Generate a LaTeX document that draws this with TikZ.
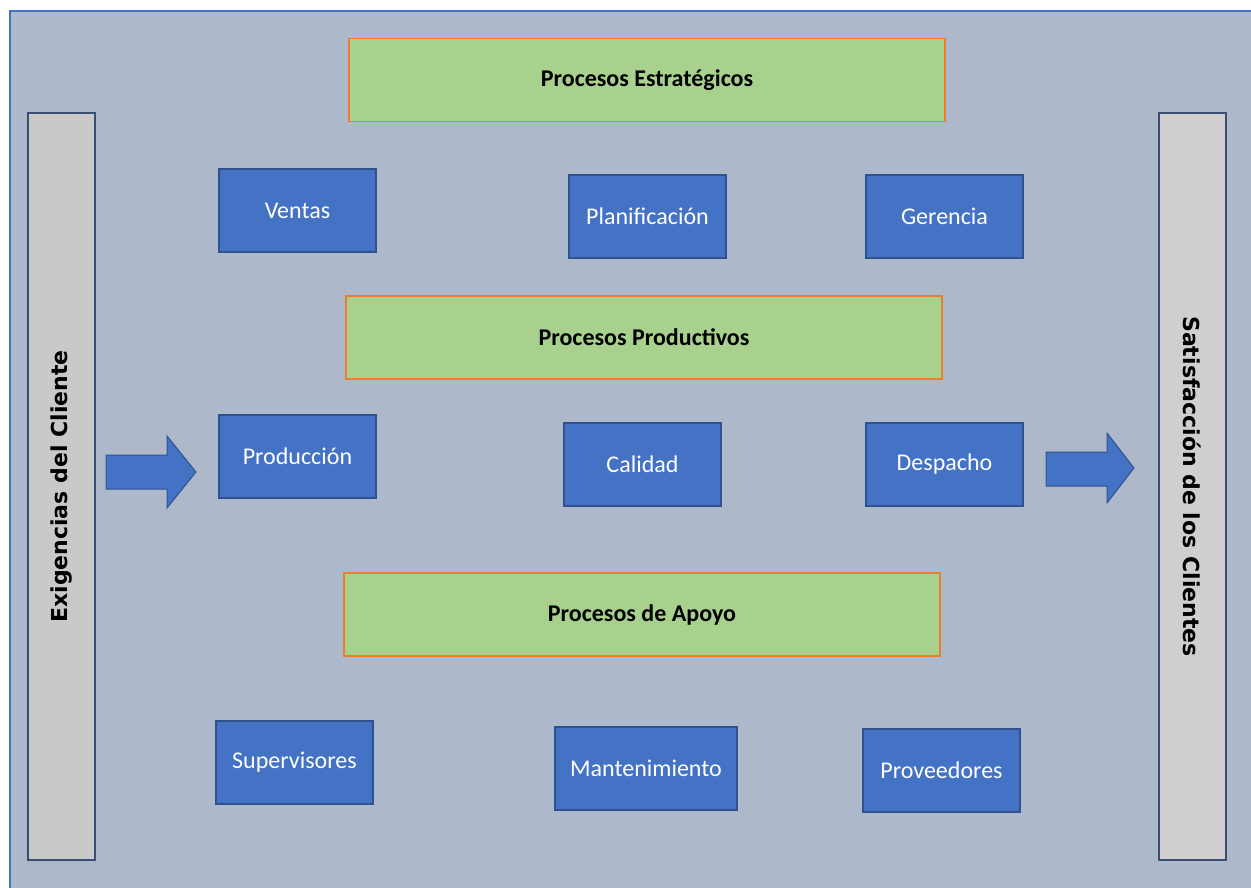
\documentclass[tikz,border=0pt]{standalone}
\usepackage{fontspec}
\setmainfont{Carlito}
\newfontfamily\barfont{DejaVu Sans}
\usetikzlibrary{positioning}
\definecolor{panelbg}{HTML}{ADB9CA}
\definecolor{panelline}{HTML}{4472C4}
\definecolor{procgreen}{HTML}{A9D18E}
\definecolor{procorange}{HTML}{ED7D31}
\definecolor{unitblue}{HTML}{4472C4}
\definecolor{unitline}{HTML}{2F528F}
\definecolor{barleft}{HTML}{C9C9C9}
\definecolor{barright}{HTML}{D0CECE}
\definecolor{barline}{HTML}{3A4D73}
\tikzset{
  x=1pt, y=-1pt,
  header/.style={draw=procorange, line width=1.4pt, fill=procgreen,
    minimum width=596pt, minimum height=83pt, inner sep=0pt,
    font=\fontsize{24}{28}\selectfont\bfseries, text=black},
  unit/.style={draw=unitline, line width=1.4pt, fill=unitblue,
    minimum width=157pt, minimum height=83pt, inner sep=0pt,
    font=\fontsize{24}{28}\selectfont, text=white},
  sidebar/.style={draw=barline, line width=1.6pt,
    minimum width=747pt, minimum height=67pt, inner sep=0pt,
    font=\barfont\fontsize{22}{26}\selectfont\bfseries, text=black},
  blockarrow/.style={draw=unitline, line width=1pt, fill=unitblue, line join=miter},
}
\begin{document}
\begin{tikzpicture}
\useasboundingbox (0,0) rectangle (1251,888);
% background panel
\fill[white] (0,0) rectangle (1251,888);
\fill[panelbg] (10,11) rectangle (1251,888);
\draw[panelline, line width=1.2pt] (10,888) -- (10,11) -- (1251,11);

% side bars
\node[sidebar, fill=barleft, rotate=90] (req) at (61.5,486.5) {Exigencias del Cliente};
\node[sidebar, fill=barright, rotate=-90] (sat) at (1192.5,486.5) {Satisfacción de los Clientes};

% process groups
\node[header] (estr) at (647,80) {Procesos Estratégicos};
\node[header] (prod) at (644,337.5) {Procesos Productivos};
\node[header] (apoyo) at (642,614.5) {Procesos de Apoyo};

% strategic units
\node[unit] (ventas) at (297.5,210.5) {Ventas};
\node[unit] (plan) at (647.5,216.5) {Planificación};
\node[unit] (ger) at (944.5,216.5) {Gerencia};

% productive units
\node[unit] (produccion) at (297.5,456.5) {Producción};
\node[unit] (calidad) at (642.5,464.5) {Calidad};
\node[unit] (despacho) at (944.5,464.5) {Despacho};

% support units
\node[unit] (superv) at (294.5,762.5) {Supervisores};
\node[unit, minimum width=182pt] (mant) at (646,768.5) {Mantenimiento};
\node[unit] (prov) at (941.5,770.5) {Proveedores};

% input and output block arrows
\draw[blockarrow] (106,455) -- (167,455) -- (167,436) -- (196,472) -- (167,508)
  -- (167,489) -- (106,489) -- cycle;
\draw[blockarrow] (1046,452) -- (1107,452) -- (1107,433) -- (1134,468) -- (1107,503)
  -- (1107,486) -- (1046,486) -- cycle;
\end{tikzpicture}
\end{document}
